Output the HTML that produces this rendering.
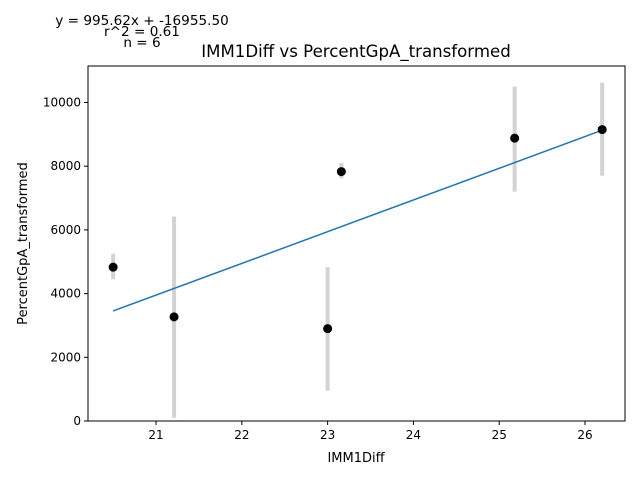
<!DOCTYPE html>
<html><head><meta charset="utf-8"><style>
body{margin:0;background:#fff}
svg{font-family:"DejaVu Sans","Liberation Sans",sans-serif}
</style></head><body>
<svg id="chart" width="640" height="480" viewBox="0 0 640 480" xmlns="http://www.w3.org/2000/svg">
<text x="142" y="25" font-size="13.6" text-anchor="middle">y = 995.62x + -16955.50</text>
<text x="142" y="36" font-size="13.6" text-anchor="middle">r^2 = 0.61</text>
<text x="142" y="47" font-size="13.6" text-anchor="middle">n = 6</text>
<text x="356" y="57" font-size="16.6" text-anchor="middle">IMM1Diff vs PercentGpA_transformed</text>
<g id="plot"></g>
<rect x="88" y="66" width="537" height="355" fill="none" stroke="#000" stroke-width="1"/>
<text x="356" y="462" font-size="13" text-anchor="middle">IMM1Diff</text>
<text transform="translate(27,243.5) rotate(-90)" font-size="13" text-anchor="middle">PercentGpA_transformed</text>
</svg>
<script>
const xs=[20.5,21.21,23.0,23.16,25.18,26.2];
const ys=[4830,3270,2900,7830,8880,9150];
const errLo=[4450,100,950,7620,7200,7700];
const errHi=[5250,6420,4830,8100,10500,10620];
const xTicks=[21,22,23,24,25,26];
const yTicks=[0,2000,4000,6000,8000,10000];
const slope=995.62, intercept=-16955.5;
const L=88,R=625,T=66,B=421;
const x0=20.207,x1=26.466,y0=0,y1=11146;
const X=v=>L+(v-x0)/(x1-x0)*(R-L);
const Y=v=>B-(v-y0)/(y1-y0)*(B-T);
const ns="http://www.w3.org/2000/svg";
const g=document.getElementById('plot');
function mk(t,a){const e=document.createElementNS(ns,t);for(const k in a)e.setAttribute(k,a[k]);g.appendChild(e);return e;}
xTicks.forEach(t=>{
 const l=mk('line',{x1:X(t),x2:X(t),y1:B,y2:B+4,stroke:'#000'});
 
 
 const tx=mk('text',{x:X(t),y:B+18,'font-size':12,'text-anchor':'middle'});tx.textContent=t;
 
 
});
yTicks.forEach(t=>{
 const l=mk('line',{x1:L-4,x2:L,y1:Y(t),y2:Y(t),stroke:'#000'});
 
 
 const tx=mk('text',{x:L-7,y:Y(t)+4,'font-size':12,'text-anchor':'end'});tx.textContent=t;
 
 
});
xs.forEach((x,i)=>{
 const e=mk('line',{x1:X(x),x2:X(x),y1:Y(errLo[i]),y2:Y(errHi[i]),stroke:'#d3d3d3','stroke-width':4});
 
 
});
const mn=Math.min(...xs),mx=Math.max(...xs);
const fl=mk('line',{x1:X(mn),y1:Y(slope*mn+intercept),x2:X(mx),y2:Y(slope*mx+intercept),stroke:'#1f77b4','stroke-width':1.5});


xs.forEach((x,i)=>{
 const c=mk('circle',{cx:X(x),cy:Y(ys[i]),r:4.5,fill:'#000'});
 
 
});
</script>
</body></html>
